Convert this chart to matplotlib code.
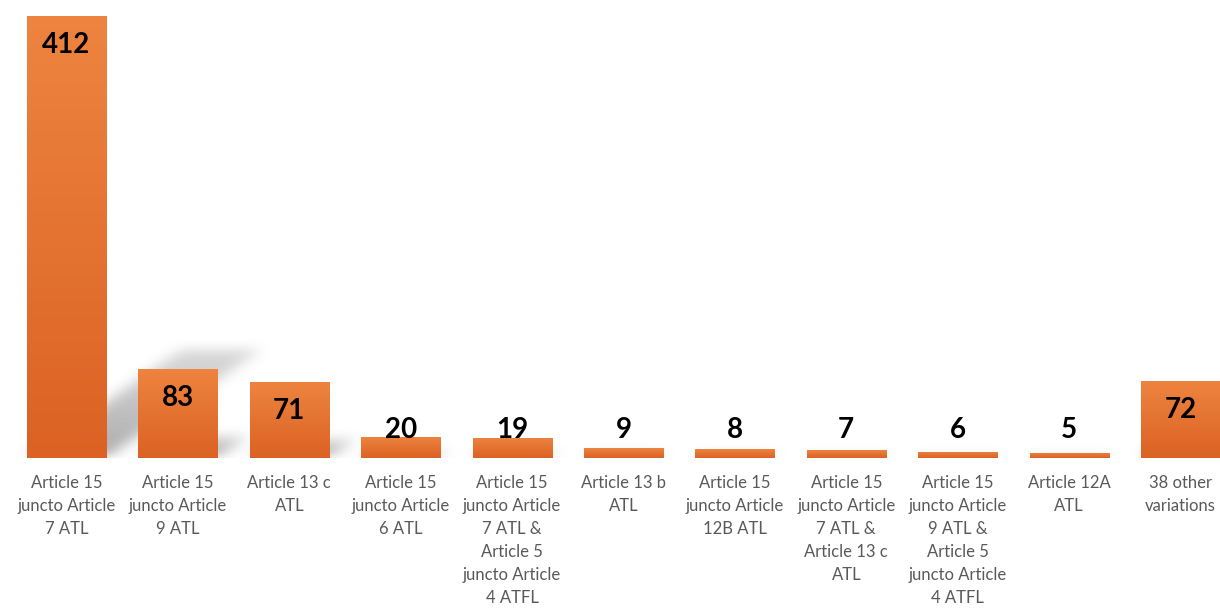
import numpy as np
import matplotlib
matplotlib.use("Agg")
import matplotlib.pyplot as plt

# chart data
categories = [
    "Article 15\njuncto Article\n7 ATL",
    "Article 15\njuncto Article\n9 ATL",
    "Article 13 c\nATL",
    "Article 15\njuncto Article\n6 ATL",
    "Article 15\njuncto Article\n7 ATL &\nArticle 5\njuncto Article\n4 ATFL",
    "Article 13 b\nATL",
    "Article 15\njuncto Article\n12B ATL",
    "Article 15\njuncto Article\n7 ATL &\nArticle 13 c\nATL",
    "Article 15\njuncto Article\n9 ATL &\nArticle 5\njuncto Article\n4 ATFL",
    "Article 12A\nATL",
    "38 other\nvariations",
]
counts = [412, 83, 71, 20, 19, 9, 8, 7, 6, 5, 72]

BAR_W = 0.71
TOP_COL = np.array([238, 132, 64]) / 255
BOT_COL = np.array([219, 98, 36]) / 255


def box_blur(a, r, axis):
    # simple moving average along one axis
    pad = [(0, 0), (0, 0)]
    pad[axis] = (r + 1, r)
    c = np.cumsum(np.pad(a, pad, mode="constant"), axis=axis)
    if axis == 0:
        return (c[2 * r + 1:] - c[:-2 * r - 1]) / (2 * r + 1)
    return (c[:, 2 * r + 1:] - c[:, :-2 * r - 1]) / (2 * r + 1)


fig = plt.figure(figsize=(12.2, 6.1), dpi=100)
ax = fig.add_axes([10.8 / 1220, 152 / 610, 1 - 10.8 / 1220, 442 / 610])
xlim = (-0.5, len(counts) - 1 + BAR_W / 2)
ylim = (0, max(counts))

x = np.arange(len(counts))

# soft perspective shadow cast up and to the right of each bar
sh_top = max(counts) * 0.45
gx = np.linspace(xlim[0], xlim[1], 1210)
gy = np.linspace(0, sh_top, 200)
GX, GY = np.meshgrid(gx, gy)
mask = np.zeros_like(GX)
for xi, v in zip(x, counts):
    hy, dx = v * 0.245, v * 1.38 / 412
    t = GY / hy
    shift = dx * t
    inside = (t <= 1) & (GX >= xi - BAR_W / 2 + shift) & (GX <= xi + BAR_W / 2 + shift)
    mask = np.maximum(mask, inside * (1 - 0.55 * np.clip(t, 0, 1)))
for _ in range(3):
    mask = box_blur(mask, 7, 1)
    mask = box_blur(mask, 5, 0)
shadow = np.zeros(mask.shape + (4,))
shadow[..., :3] = 0.35
shadow[..., 3] = np.clip(mask, 0, 1) * 0.5
ax.imshow(shadow, extent=[xlim[0], xlim[1], 0, sh_top], origin="lower",
          aspect="auto", zorder=1, interpolation="bilinear")

# bars with a light vertical gradient
bars = ax.bar(x, counts, width=BAR_W, color="none", zorder=2)
grad = np.linspace(0, 1, 256)[:, None, None]
img = BOT_COL[None, None, :] * (1 - grad) + TOP_COL[None, None, :] * grad
for b in bars:
    im = ax.imshow(img, extent=[b.get_x(), b.get_x() + b.get_width(), 0, b.get_height()],
                   origin="lower", aspect="auto", zorder=2, interpolation="bilinear")
    im.set_clip_path(b)
ax.set_xlim(*xlim)
ax.set_ylim(*ylim)

# value labels
for xi, v in zip(x, counts):
    ax.text(xi, max(v - 27, 26), str(v), ha="center", va="center",
            fontsize=20, fontweight="bold", family="Lato", color="black", zorder=3)

ax.set_xticks(x)
ax.set_xticklabels(categories, fontsize=12, family="Lato", color="#595959",
                   linespacing=1.55)
ax.tick_params(axis="x", length=0, pad=12)
ax.set_yticks([])
for s in ax.spines.values():
    s.set_visible(False)

fig.savefig("out.png", dpi=100)
